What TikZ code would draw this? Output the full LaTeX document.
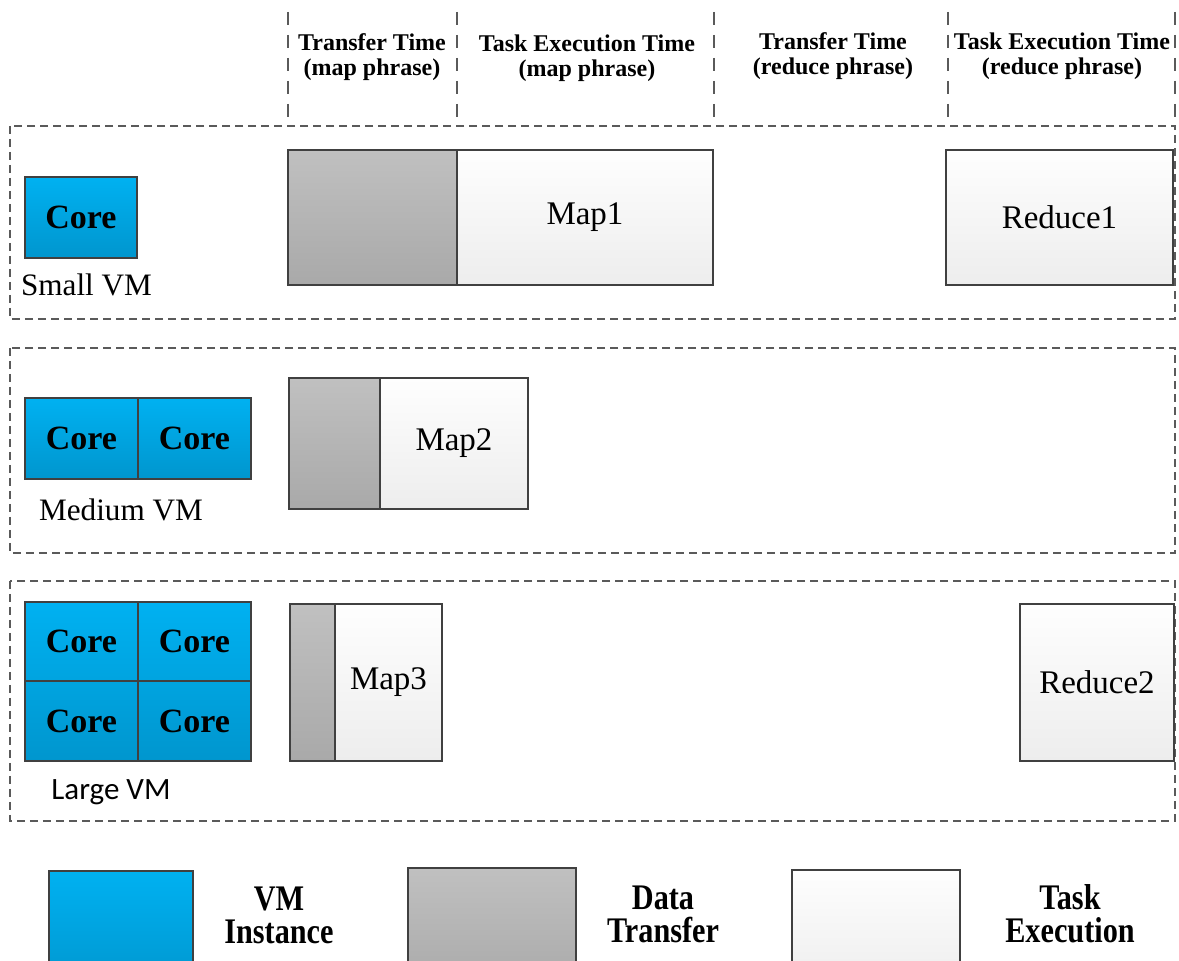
\documentclass[tikz,border=0pt]{standalone}
\usepackage{fontspec}
\setmainfont{Liberation Serif}
\newfontfamily\vmsans{Carlito}
\usepackage{graphicx}
\usetikzlibrary{positioning}

\definecolor{coretop}{HTML}{00B1F1}
\definecolor{corebot}{HTML}{0096CE}
\definecolor{xfertop}{HTML}{C0C0C0}
\definecolor{xferbot}{HTML}{A9A9A9}
\definecolor{exectop}{HTML}{FEFEFE}
\definecolor{execbot}{HTML}{EDEDED}
\definecolor{boxline}{HTML}{404040}
\definecolor{frameline}{HTML}{5A5A5A}

\begin{document}
\begin{tikzpicture}[x=0.5pt, y=-0.5pt,
    corebox/.style={draw=boxline, line width=0.6pt, top color=coretop, bottom color=corebot},
    xferbox/.style={draw=boxline, line width=0.6pt, top color=xfertop, bottom color=xferbot},
    execbox/.style={draw=boxline, line width=0.6pt, top color=exectop, bottom color=execbot},
    rowframe/.style={draw=frameline, line width=0.6pt, dash pattern=on 4pt off 2.5pt},
    phaseline/.style={draw=frameline, line width=0.9pt, dash pattern=on 6.5pt off 5pt},
    corelbl/.style={font=\fontsize{17}{20}\selectfont\bfseries},
    tasklbl/.style={font=\fontsize{16.5}{20}\selectfont},
    headlbl/.style={font=\fontsize{12}{12.3}\selectfont\bfseries, align=center, inner sep=0pt},
    vmlbl/.style={font=\fontsize{15.6}{18}\selectfont},
    keylbl/.style={font=\fontsize{18}{16.5}\selectfont\bfseries, align=center}]
      \clip (0, 0) rectangle (1179, 961);

      % phase header
      \foreach \x/\n in {288/pa, 457/pb, 714/pc, 948/pd, 1175/pe} {
        \coordinate (\n) at (\x, 12);
        \draw[phaseline] (\n) -- (\x, 121);
      }
      \node[headlbl] (maptx) at (372, 57) {Transfer Time\\(map phrase)};
      \node[headlbl] (mapex) at (587, 58) {Task Execution Time\\(map phrase)};
      \node[headlbl] (redtx) at (833, 56) {Transfer Time\\(reduce phrase)};
      \node[headlbl] (redex) at (1062, 56) {Task Execution Time\\(reduce phrase)};

      % row frames
      \draw[rowframe] (10, 126) rectangle (1175, 319)
                      (10, 348) rectangle (1175, 553)
                      (10, 581) rectangle (1175, 821);

      % small VM
      \draw[corebox] (25, 177) rectangle (137, 258) node[corelbl, pos=.5] (s1) {Core};
      \node[vmlbl, anchor=west] (small) at (14, 285) {Small VM};
      \draw[xferbox] (288, 150) rectangle (457, 285) node[pos=.5] (tx1) {};
      \draw[execbox] (457, 150) rectangle (713, 285) node[tasklbl, pos=.5] (map1) {Map1};
      \draw[execbox] (946, 150) rectangle (1173, 285) node[tasklbl, pos=.5] (red1) {Reduce1};

      % medium VM
      \draw[corebox] (25, 398) rectangle (138, 479) node[corelbl, pos=.5] (m1) {Core}
                     (138, 398) rectangle (251, 479) node[corelbl, pos=.5] (m2) {Core};
      \node[vmlbl] (medium) at (121, 510) {Medium VM};
      \draw[xferbox] (289, 378) rectangle (380, 509) node[pos=.5] (tx2) {};
      \draw[execbox] (380, 378) rectangle (528, 509) node[tasklbl, pos=.5] (map2) {Map2};

      % large VM
      \draw[corebox] (25, 602) rectangle (138, 681) node[corelbl, pos=.5] (l1) {Core}
                     (138, 602) rectangle (251, 681) node[corelbl, pos=.5] (l2) {Core}
                     (25, 681) rectangle (138, 761) node[corelbl, pos=.5] (l3) {Core}
                     (138, 681) rectangle (251, 761) node[corelbl, pos=.5] (l4) {Core};
      \node[vmlbl, font=\vmsans\fontsize{15.5}{18}\selectfont] (large) at (111, 792) {Large VM};
      \draw[xferbox] (290, 604) rectangle (335, 761) node[pos=.5] (tx3) {};
      \draw[execbox] (335, 604) rectangle (442, 761) node[tasklbl, pos=.5] (map3) {Map3};
      \draw[execbox] (1020, 604) rectangle (1174, 761) node[tasklbl, pos=.5] (red2) {Reduce2};

      % legend
      \draw[corebox] (49, 871) rectangle (193, 990) node[pos=.5] (keyvm) {};
      \draw[xferbox] (408, 868) rectangle (576, 990) node[pos=.5] (keytx) {};
      \draw[execbox] (792, 870) rectangle (960, 990) node[pos=.5] (keyex) {};
      \node[keylbl] (vmtxt) at (279, 915) {\scalebox{0.84}[1]{VM}\\\scalebox{0.84}[1]{Instance}};
      \node[keylbl] (txtxt) at (663, 914) {\scalebox{0.84}[1]{Data}\\\scalebox{0.84}[1]{Transfer}};
      \node[keylbl] (extxt) at (1070, 914) {\scalebox{0.84}[1]{Task}\\\scalebox{0.84}[1]{Execution}};
\end{tikzpicture}
\end{document}
